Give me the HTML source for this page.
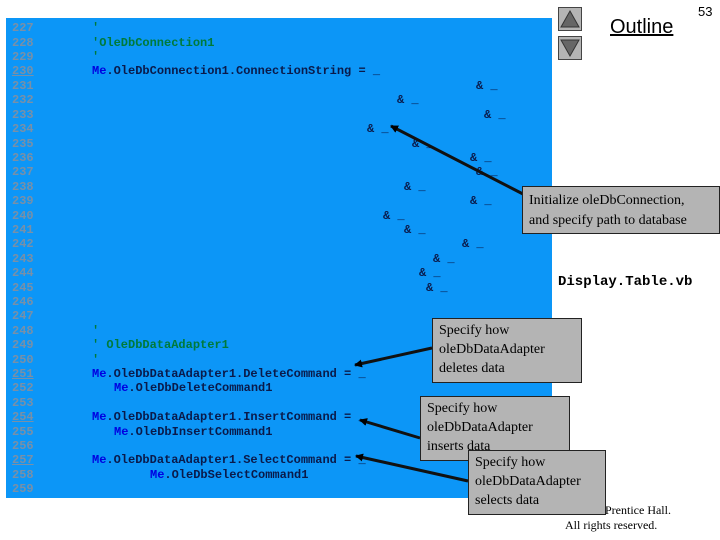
<!DOCTYPE html>
<html><head><style>
body{margin:0;width:720px;height:540px;background:#fff;position:relative;overflow:hidden;font-family:"Liberation Serif",serif}
.panel{position:absolute;left:6px;top:18px;width:546px;height:480px;background:#0c96f7}
.l{position:absolute;font:bold 12px "Liberation Mono",monospace;white-space:pre;line-height:14px;color:#0a1a4a}
.n{color:#7890a8}
.u{text-decoration:underline}
.b{color:#0000e0}
.g{color:#007a3a}
.box{position:absolute;background:#b4b4b4;border:1px solid #222;font:14px "Liberation Serif",serif;line-height:19px;padding:2px 6px;box-sizing:border-box}
.btn{position:absolute;left:558px;width:24px;height:24px;background:#b4b4b4;border:1px solid #444;box-sizing:border-box}
</style></head><body>
<div class="panel"></div>
<div class="l n" style="left:12px;top:21px">227</div>
<div class="l n" style="left:12px;top:36px">228</div>
<div class="l n" style="left:12px;top:50px">229</div>
<div class="l n u" style="left:12px;top:64px">230</div>
<div class="l n" style="left:12px;top:79px">231</div>
<div class="l n" style="left:12px;top:93px">232</div>
<div class="l n" style="left:12px;top:108px">233</div>
<div class="l n" style="left:12px;top:122px">234</div>
<div class="l n" style="left:12px;top:137px">235</div>
<div class="l n" style="left:12px;top:151px">236</div>
<div class="l n" style="left:12px;top:165px">237</div>
<div class="l n" style="left:12px;top:180px">238</div>
<div class="l n" style="left:12px;top:194px">239</div>
<div class="l n" style="left:12px;top:209px">240</div>
<div class="l n" style="left:12px;top:223px">241</div>
<div class="l n" style="left:12px;top:237px">242</div>
<div class="l n" style="left:12px;top:252px">243</div>
<div class="l n" style="left:12px;top:266px">244</div>
<div class="l n" style="left:12px;top:281px">245</div>
<div class="l n" style="left:12px;top:295px">246</div>
<div class="l n" style="left:12px;top:309px">247</div>
<div class="l n" style="left:12px;top:324px">248</div>
<div class="l n" style="left:12px;top:338px">249</div>
<div class="l n" style="left:12px;top:353px">250</div>
<div class="l n u" style="left:12px;top:367px">251</div>
<div class="l n" style="left:12px;top:381px">252</div>
<div class="l n" style="left:12px;top:396px">253</div>
<div class="l n u" style="left:12px;top:410px">254</div>
<div class="l n" style="left:12px;top:425px">255</div>
<div class="l n" style="left:12px;top:439px">256</div>
<div class="l n u" style="left:12px;top:453px">257</div>
<div class="l n" style="left:12px;top:468px">258</div>
<div class="l n" style="left:12px;top:482px">259</div>

<div class="l g" style="left:92px;top:21px">'</div>
<div class="l g" style="left:92px;top:36px">'OleDbConnection1</div>
<div class="l g" style="left:92px;top:50px">'</div>
<div class="l" style="left:92px;top:64px"><span class="b">Me</span>.OleDbConnection1.ConnectionString = _</div>
<div class="l" style="left:476px;top:79px">&amp; _</div>
<div class="l" style="left:397px;top:93px">&amp; _</div>
<div class="l" style="left:484px;top:108px">&amp; _</div>
<div class="l" style="left:367px;top:122px">&amp; _</div>
<div class="l" style="left:412px;top:137px">&amp; _</div>
<div class="l" style="left:470px;top:151px">&amp; _</div>
<div class="l" style="left:476px;top:165px">&amp; _</div>
<div class="l" style="left:404px;top:180px">&amp; _</div>
<div class="l" style="left:470px;top:194px">&amp; _</div>
<div class="l" style="left:383px;top:209px">&amp; _</div>
<div class="l" style="left:404px;top:223px">&amp; _</div>
<div class="l" style="left:462px;top:237px">&amp; _</div>
<div class="l" style="left:433px;top:252px">&amp; _</div>
<div class="l" style="left:419px;top:266px">&amp; _</div>
<div class="l" style="left:426px;top:281px">&amp; _</div>

<div class="l g" style="left:92px;top:324px">'</div>
<div class="l g" style="left:92px;top:338px">' OleDbDataAdapter1</div>
<div class="l g" style="left:92px;top:353px">'</div>
<div class="l" style="left:92px;top:367px"><span class="b">Me</span>.OleDbDataAdapter1.DeleteCommand = _</div>
<div class="l" style="left:114px;top:381px"><span class="b">Me</span>.OleDbDeleteCommand1</div>
<div class="l" style="left:92px;top:410px"><span class="b">Me</span>.OleDbDataAdapter1.InsertCommand = _</div>
<div class="l" style="left:114px;top:425px"><span class="b">Me</span>.OleDbInsertCommand1</div>
<div class="l" style="left:92px;top:453px"><span class="b">Me</span>.OleDbDataAdapter1.SelectCommand = _</div>
<div class="l" style="left:150px;top:468px"><span class="b">Me</span>.OleDbSelectCommand1</div>

<div class="btn" style="top:7px"><svg width="22" height="22"><polygon points="11,3 20,19 2,19" fill="#666" stroke="#333"/></svg></div>
<div class="btn" style="top:36px"><svg width="22" height="22"><polygon points="2,3 20,3 11,19" fill="#666" stroke="#333"/></svg></div>
<div style="position:absolute;left:610px;top:16px;font:20px 'Liberation Sans',sans-serif;text-decoration:underline">Outline</div>
<div style="position:absolute;left:698px;top:4px;font:13px 'Liberation Sans',sans-serif">53</div>
<div style="position:absolute;left:558px;top:274px;font:bold 14px 'Liberation Mono',monospace">Display.Table.vb</div>

<div style="position:absolute;left:605px;top:503px;font:12px 'Liberation Serif',serif">Prentice Hall.</div>
<div style="position:absolute;left:565px;top:518px;font:12px 'Liberation Serif',serif">All rights reserved.</div>

<svg style="position:absolute;left:0;top:0" width="720" height="540">
<defs><marker id="a" markerWidth="8" markerHeight="8" refX="7" refY="4" orient="auto" markerUnits="userSpaceOnUse"><path d="M0,0 L8,4 L0,8 z" fill="#000"/></marker></defs>
<g stroke="#111" stroke-width="3" marker-end="url(#a)">
<line x1="523" y1="194" x2="391" y2="126"/>
<line x1="432" y1="348" x2="355" y2="365"/>
<line x1="420" y1="438" x2="360" y2="420"/>
<line x1="468" y1="481" x2="356" y2="456"/>
</g></svg>

<div class="box" style="left:522px;top:186px;width:198px;height:48px;line-height:20px;padding-top:4px">Initialize oleDbConnection,<br>and specify path to database</div>
<div class="box" style="left:432px;top:318px;width:150px;height:65px">Specify how<br>oleDbDataAdapter<br>deletes data</div>
<div class="box" style="left:420px;top:396px;width:150px;height:65px">Specify how<br>oleDbDataAdapter<br>inserts data</div>
<div class="box" style="left:468px;top:450px;width:138px;height:65px">Specify how<br>oleDbDataAdapter<br>selects data</div>
</body></html>
